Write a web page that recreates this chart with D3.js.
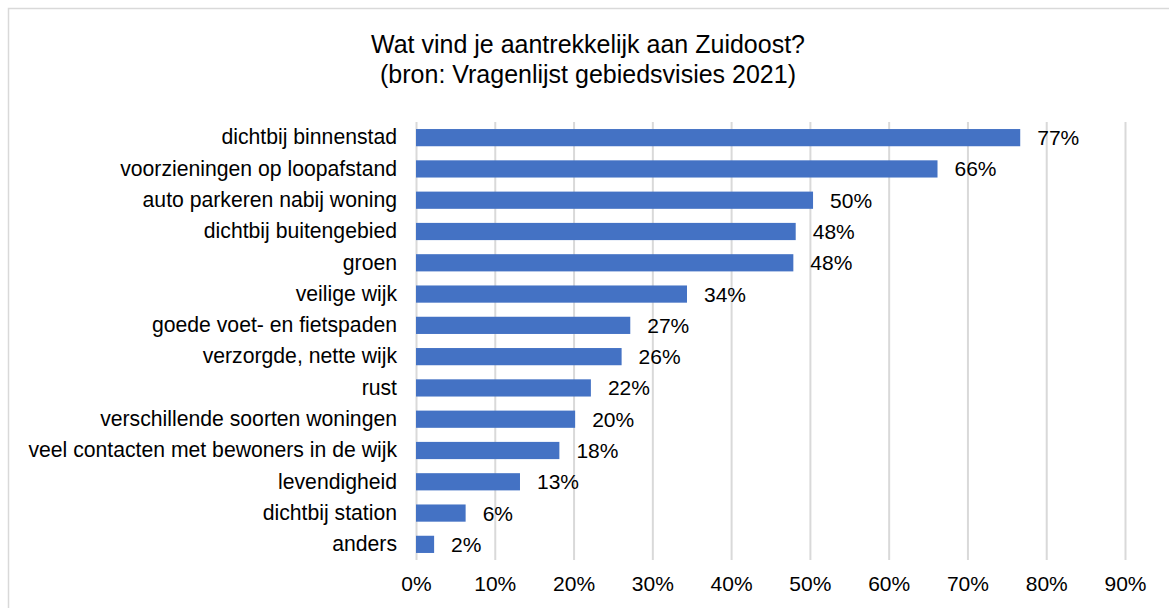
<!DOCTYPE html>
<html>
<head>
<meta charset="utf-8">
<script src="https://cdn.jsdelivr.net/npm/d3@7"></script>
<style>
  body { margin: 0; background: #fff; }
  svg { display: block; font-family: "Liberation Sans", Arial, sans-serif; }
</style>
</head>
<body>
<div id="chart"></div>
<script>
// data
var categories = [
    "dichtbij binnenstad",
    "voorzieningen op loopafstand",
    "auto parkeren nabij woning",
    "dichtbij buitengebied",
    "groen",
    "veilige wijk",
    "goede voet- en fietspaden",
    "verzorgde, nette wijk",
    "rust",
    "verschillende soorten woningen",
    "veel contacten met bewoners in de wijk",
    "levendigheid",
    "dichtbij station",
    "anders"
];
var values = [0.767, 0.662, 0.504, 0.482, 0.479, 0.344, 0.272, 0.261, 0.222, 0.202, 0.182, 0.132, 0.063, 0.023];
var xTicks = [0, 0.1, 0.2, 0.3, 0.4, 0.5, 0.6, 0.7, 0.8, 0.9];
var titleLines = ["Wat vind je aantrekkelijk aan Zuidoost?", "(bron: Vragenlijst gebiedsvisies 2021)"];

var width = 1169, height = 608;
var margin = { top: 122, left: 416, right: 44, bottom: 48 };

var svg = d3.select("#chart").append("svg")
    .attr("width", width)
    .attr("height", height);

// chart frame
svg.append("rect")
    .attr("x", 8.5).attr("y", 8.5)
    .attr("width", width + 20).attr("height", height + 20)
    .attr("fill", "none")
    .attr("stroke", "#d9d9d9")
    .attr("stroke-width", 1.5);

var x = d3.scaleLinear().domain([0, 0.9]).range([margin.left, width - margin.right]);
var y = d3.scaleBand().domain(categories)
    .range([margin.top, height - margin.bottom])
    .paddingInner(0.45).paddingOuter(0.225);

// title
svg.append("g").selectAll("text")
    .data(titleLines)
    .enter()
    .append("text")
    .attr("x", 588)
    .attr("y", function (d, i) { return 53 + i * 30; })
    .attr("text-anchor", "middle")
    .style("font-size", "25px")
    .style("fill", "#000")
    .text(function (d) { return d; });

// gridlines + tick labels
var xAxis = d3.axisBottom(x)
    .tickValues(xTicks)
    .tickFormat(d3.format(".0%"))
    .tickSize(-(height - margin.bottom - margin.top))
    .tickPadding(16);

var gx = svg.append("g")
    .attr("transform", "translate(0," + (height - margin.bottom) + ")")
    .call(xAxis);
gx.select(".domain").remove();
gx.selectAll(".tick line").attr("stroke", "#d9d9d9").attr("stroke-width", 2);
gx.selectAll(".tick text")
    .style("font-size", "21px")
    .style("fill", "#000")
    .style("font-family", "Liberation Sans, Arial, sans-serif");

// category labels
var yAxis = d3.axisLeft(y).tickSize(0).tickPadding(19);
var gy = svg.append("g")
    .attr("transform", "translate(" + margin.left + ",0)")
    .call(yAxis);
gy.select(".domain").remove();
gy.selectAll(".tick text")
    .style("font-size", "21.2px")
    .style("fill", "#000")
    .style("font-family", "Liberation Sans, Arial, sans-serif");

// bars
svg.append("g").selectAll("rect")
    .data(values)
    .enter()
    .append("rect")
    .attr("x", x(0))
    .attr("y", function (d, i) { return y(categories[i]); })
    .attr("width", function (d) { return x(d) - x(0); })
    .attr("height", y.bandwidth())
    .attr("fill", "#4472c4");

// value labels
svg.append("g").selectAll("text")
    .data(values)
    .enter()
    .append("text")
    .attr("x", function (d) { return x(d) + 17; })
    .attr("y", function (d, i) { return y(categories[i]) + y.bandwidth() / 2; })
    .attr("dy", "0.36em")
    .style("font-size", "21px")
    .style("fill", "#000")
    .text(function (d) { return d3.format(".0%")(d); });
</script>
</body>
</html>
